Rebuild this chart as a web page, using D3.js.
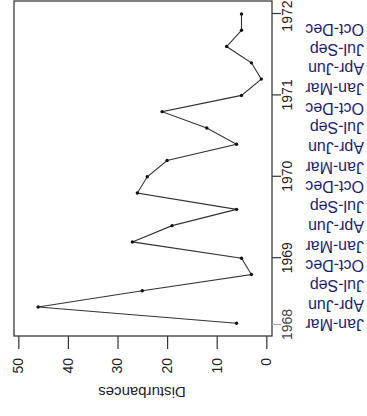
<!DOCTYPE html>
<html lang="en">

<head>
    <meta charset="UTF-8">
    <title>Disturbances</title>
    <style>
        html,
        body {
            height: 100%;
            margin: 0;
            background: #fff;
        }

        svg {
            display: block;
            font-family: "Liberation Sans", Arial, sans-serif;
        }

        .axis path {
            display: none;
        }
    </style>
</head>

<body>
    <div class="chart"></div>

    <script src="https://d3js.org/d3.v7.min.js"></script>
    <script>
        // quarterly series, oldest first
        var times = [1968.2, 1968.4, 1968.6, 1968.8, 1969.0, 1969.2, 1969.4, 1969.6, 1969.8, 1970.0,
            1970.2, 1970.4, 1970.6, 1970.8, 1971.0, 1971.2, 1971.4, 1971.6, 1971.8, 1972.0];
        var disturbances = [6, 46, 25, 3, 5, 27, 19, 6, 26, 24, 20, 6, 12, 21, 5, 1, 3, 8, 5, 5];
        var valueTicks = [0, 10, 20, 30, 40, 50];
        var yearTicks = [1969, 1970, 1971, 1972];
        var firstYearTick = [1968.18];
        var quarterLabels = ["Jan-Mar", "Apr-Jun", "Jul-Sep", "Oct-Dec",
            "Jan-Mar", "Apr-Jun", "Jul-Sep", "Oct-Dec",
            "Jan-Mar", "Apr-Jun", "Jul-Sep", "Oct-Dec",
            "Jan-Mar", "Apr-Jun", "Jul-Sep", "Oct-Dec"];

        // the plot is laid out landscape (416 x 367) and then turned a quarter left
        var W = 416, H = 367;
        var box = { left: 80, right: 415, top: 14, bottom: 272 };

        var svg = d3.select('.chart')
            .append('svg')
            .attr('width', H)
            .attr('height', W);

        var g = svg.append('g')
            .attr('transform', `translate(0, ${W}) rotate(-90)`);

        var xScale = d3.scaleLinear().domain([1968.2, 1972]).range([92.7, 402]);
        var yScale = d3.scaleLinear().domain([0, 50]).range([266.3, 18.3]);
        var qScale = d3.scalePoint().domain(d3.range(quarterLabels.length)).range([91, 386.5]);

        // frame
        g.append('rect')
            .attr('x', box.left)
            .attr('y', box.top)
            .attr('width', box.right - box.left)
            .attr('height', box.bottom - box.top)
            .attr('fill', 'none')
            .attr('stroke', '#3a3a3a')
            .attr('stroke-width', 1.3);

        // value axis
        var yAxis = d3.axisLeft(yScale).tickValues(valueTicks).tickSize(13).tickPadding(9);
        var ya = g.append('g').attr('class', 'axis')
            .attr('transform', `translate(${box.left}, 0)`)
            .call(yAxis);
        ya.selectAll('line').attr('stroke', '#333').attr('stroke-width', 1.2);
        ya.selectAll('text').attr('fill', '#222').style('font-size', '14px');

        // year axis
        var xAxis = d3.axisBottom(xScale).tickValues(yearTicks).tickSize(9).tickPadding(1).tickFormat(d3.format('d'));
        var xa = g.append('g').attr('class', 'axis')
            .attr('transform', `translate(0, ${box.bottom})`)
            .call(xAxis);
        xa.selectAll('line').attr('stroke', '#333').attr('stroke-width', 1.2);
        xa.selectAll('text').attr('fill', '#222').style('font-size', '14px');
        // last year label sits at the page edge: keep it inside
        xa.selectAll('text').filter(d => d === 1972)
            .attr('text-anchor', 'end')
            .attr('x', W - 1 - xScale(1972));

        var x0Axis = d3.axisBottom(xScale).tickValues(firstYearTick).tickSize(9).tickPadding(1).tickFormat(() => '1968');
        var x0a = g.append('g').attr('class', 'axis')
            .attr('transform', `translate(0, ${box.bottom})`)
            .call(x0Axis);
        x0a.selectAll('line').attr('stroke', '#aaa').attr('stroke-width', 1.2);
        x0a.selectAll('text').attr('fill', '#444').style('font-size', '14px');

        // quarter names
        g.append('g').selectAll('text')
            .data(quarterLabels)
            .enter().append('text')
            .attr('transform', (d, i) => `translate(${qScale(i)}, 364) rotate(-90)`)
            .attr('dy', '0.35em')
            .attr('text-anchor', 'start')
            .attr('fill', '#1e1e6e')
            .style('font-size', '16px')
            .text(d => d);

        // axis title
        g.append('text')
            .attr('transform', `translate(24, 142) rotate(-90)`)
            .attr('dy', '0.35em')
            .attr('text-anchor', 'middle')
            .attr('fill', '#222')
            .style('font-size', '15px')
            .text('Disturbances');

        // series
        var line = d3.line().x((d, i) => xScale(times[i])).y(d => yScale(d));

        g.append('path')
            .attr('d', line(disturbances))
            .attr('fill', 'none')
            .attr('stroke', '#333')
            .attr('stroke-width', 1.1);

        g.append('g').selectAll('circle')
            .data(disturbances)
            .enter().append('circle')
            .attr('cx', (d, i) => xScale(times[i]))
            .attr('cy', d => yScale(d))
            .attr('r', 1.7)
            .attr('fill', '#111');
    </script>
</body>

</html>
